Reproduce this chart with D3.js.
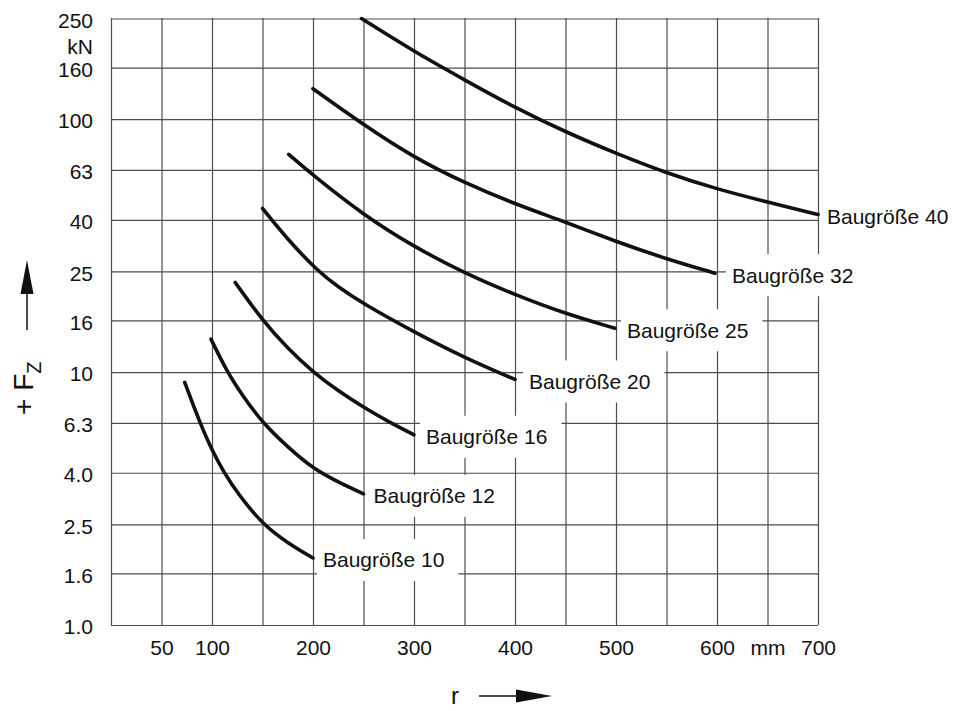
<!DOCTYPE html>
<html>
<head>
<meta charset="utf-8">
<script src="https://cdn.jsdelivr.net/npm/d3@7"></script>
<style>
  body { margin: 0; background: #fff; }
  svg { display: block; font-family: "Liberation Sans", Arial, Helvetica, sans-serif; }
</style>
</head>
<body>
<div id="chart"></div>
<script>
    // Values: r in mm, Fz in kN
    sizes = ["10", "12", "16", "20", "25", "32", "40"]

    r_10 = [73, 88, 100, 112, 125, 150, 175, 200]
    f_10 = [9.1, 6.3, 4.9, 4.0, 3.33, 2.5, 2.11, 1.84]

    r_12 = [99, 115, 130, 150, 175, 200, 225, 250]
    f_12 = [13.5, 10, 8.1, 6.3, 5.05, 4.15, 3.67, 3.3]

    r_16 = [123, 150, 175, 200, 225, 250, 275, 300]
    f_16 = [22.6, 16, 12.4, 10, 8.42, 7.25, 6.36, 5.65]

    r_20 = [150, 175, 205, 225, 250, 300, 350, 400]
    f_20 = [44.4, 33.4, 25, 21.7, 18.6, 14.4, 11.4, 9.35]

    r_25 = [176, 200, 250, 300, 350, 400, 450, 499]
    f_25 = [72.6, 60, 41.8, 31.3, 24.6, 20.2, 17.0, 14.9]

    r_32 = [200, 250, 300, 350, 400, 450, 500, 550, 598]
    f_32 = [132, 95, 70.5, 56, 46.2, 39.2, 32.8, 28.0, 24.6]

    r_40 = [248, 300, 350, 400, 450, 500, 550, 600, 650, 700]
    f_40 = [250, 185, 143, 111, 89, 73.2, 61.2, 52.9, 47, 42]

    r_all = [r_10, r_12, r_16, r_20, r_25, r_32, r_40]
    f_all = [f_10, f_12, f_16, f_20, f_25, f_32, f_40]

    // Axis ticks
    xGrid = [0, 50, 100, 150, 200, 250, 300, 350, 400, 450, 500, 550, 600, 650, 700]
    xLabelValues = [50, 100, 200, 300, 400, 500, 600, 650, 700]
    xLabelTexts = ["50", "100", "200", "300", "400", "500", "600", "mm", "700"]

    yTicks = [1.0, 1.6, 2.5, 4.0, 6.3, 10, 16, 25, 40, 63, 100, 160, 250]
    yLabels = ["1.0", "1.6", "2.5", "4.0", "6.3", "10", "16", "25", "40", "63", "100", "160", "250"]

    series = sizes.map((s, i) => ({
        name: "Baugröße " + s,
        points: r_all[i].map((r, j) => ({r: r, f: f_all[i][j]}))
    }))

    // Setup Chart
    canvas = ({width: 965, height: 711})
    margin = ({top: 18, right: 147, bottom: 86, left: 111})
    plotW = canvas.width - margin.left - margin.right
    plotH = canvas.height - margin.top - margin.bottom

    gridColor = "#4d4d4d"
    inkColor = "#111"
    fontSize = 21
    // gap between curve end and its label, per size (layout only)
    labelGap = [10, 10, 12, 14, 12, 17, 9]

    x = d3.scaleLinear()
        .domain([0, 700])
        .range([margin.left, canvas.width - margin.right])

    // Renard R5 steps are evenly spaced on a log axis: 1 .. 10^2.4
    y = d3.scaleLog()
        .domain([1, Math.pow(10, 2.4)])
        .range([canvas.height - margin.bottom, margin.top])

    xText = new Map(xLabelValues.map((v, i) => [v, xLabelTexts[i]]))
    yText = new Map(yTicks.map((v, i) => [v, yLabels[i]]))

    var svg = d3.select("#chart").append("svg")
        .attr("width", canvas.width)
        .attr("height", canvas.height)
        .attr("viewBox", [0, 0, canvas.width, canvas.height])

    // Grid + tick labels
    svg.append("g")
        .attr("transform", `translate(0,${canvas.height - margin.bottom})`)
        .call(d3.axisBottom(x).tickValues(xGrid).tickSize(-plotH).tickPadding(15)
            .tickFormat(d => xText.get(d) || ""))
        .call(g => g.attr("font-size", null).attr("font-family", null))
        .call(g => g.select(".domain").remove())
        .call(g => g.selectAll(".tick line").attr("stroke", gridColor).attr("stroke-width", 1.2))
        .call(g => g.selectAll(".tick text").attr("font-size", fontSize).attr("fill", inkColor))

    svg.append("g")
        .attr("transform", `translate(${margin.left},0)`)
        .call(d3.axisLeft(y).tickValues(yTicks).tickSize(-plotW).tickPadding(18)
            .tickFormat(d => yText.get(d)))
        .call(g => g.attr("font-size", null).attr("font-family", null))
        .call(g => g.select(".domain").remove())
        .call(g => g.selectAll(".tick line").attr("stroke", gridColor).attr("stroke-width", 1.2))
        .call(g => g.selectAll(".tick text").attr("font-size", fontSize).attr("fill", inkColor).attr("dy", "0.42em"))

    // unit under the top label
    svg.append("text")
        .attr("x", margin.left - 18)
        .attr("y", y(250) + 28)
        .attr("dy", "0.35em")
        .attr("text-anchor", "end")
        .attr("font-size", fontSize)
        .attr("fill", inkColor)
        .text("kN")

    // Labels with white boxes (they blank out the grid behind them)
    labels = svg.append("g")
    series.forEach((s, i) => {
        last = s.points[s.points.length - 1]
        lx = x(last.r) + labelGap[i]
        ly = y(last.f) + 2
        lg = labels.append("g")
        t = lg.append("text")
            .attr("x", lx)
            .attr("y", ly)
            .attr("dy", "0.35em")
            .attr("font-size", fontSize)
            .attr("fill", inkColor)
            .text(s.name)
        w = t.node().getComputedTextLength()
        lg.insert("rect", "text")
            .attr("x", lx - 6)
            .attr("y", ly - 21)
            .attr("width", w + 20)
            .attr("height", 42)
            .attr("fill", "#fff")
    })

    // Curves
    line = d3.line()
        .x(d => x(d.r))
        .y(d => y(d.f))
        .curve(d3.curveBasis)

    svg.append("g")
        .selectAll("path")
        .data(series)
        .join("path")
        .attr("fill", "none")
        .attr("stroke", inkColor)
        .attr("stroke-width", 3.6)
        .attr("stroke-linecap", "round")
        .attr("d", d => line(d.points))

    // Axis titles with arrows
    ax = 27
    svg.append("text")
        .attr("transform", `translate(${ax + 6},415) rotate(-90)`)
        .attr("font-size", 28)
        .attr("fill", inkColor)
        .text("+ F")
        .append("tspan")
        .attr("font-size", 20)
        .attr("dy", 8)
        .text("Z")

    svg.append("line")
        .attr("x1", ax).attr("x2", ax)
        .attr("y1", 330).attr("y2", 292)
        .attr("stroke", inkColor).attr("stroke-width", 1.5)
    svg.append("path")
        .attr("d", `M${ax},260 L${ax - 6.5},294 L${ax + 6.5},294 Z`)
        .attr("fill", inkColor)

    svg.append("text")
        .attr("x", 455)
        .attr("y", 704)
        .attr("text-anchor", "middle")
        .attr("font-size", 24)
        .attr("fill", inkColor)
        .text("r")

    svg.append("line")
        .attr("x1", 479).attr("x2", 518)
        .attr("y1", 696).attr("y2", 696)
        .attr("stroke", inkColor).attr("stroke-width", 1.5)
    svg.append("path")
        .attr("d", "M552,696 L516,689.5 L516,702.5 Z")
        .attr("fill", inkColor)
</script>
</body>
</html>
